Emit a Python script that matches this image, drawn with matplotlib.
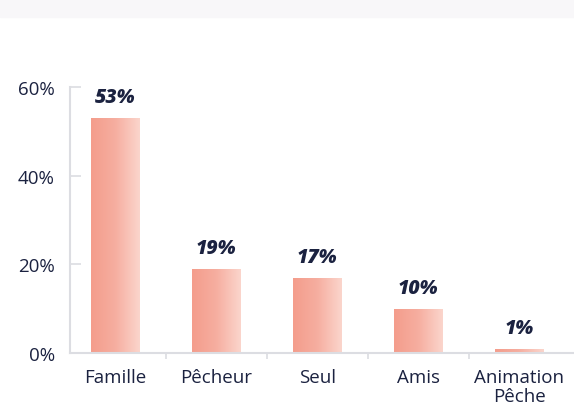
import numpy as np
import matplotlib.pyplot as plt
from matplotlib.colors import LinearSegmentedColormap
from matplotlib.ticker import FuncFormatter

categories = ["Famille", "Pêcheur", "Seul", "Amis", "Animation\nPêche"]
values = [53, 19, 17, 10, 1]
yticks = [0, 20, 40, 60]

navy = "#1b2240"
grid_grey = "#dcdde2"
fade = LinearSegmentedColormap.from_list("fade", ["#f49d8c", "#f6aea0", "#fbd5cc"])

plt.rcParams["font.family"] = ["Open Sans", "DejaVu Sans"]

fig = plt.figure(figsize=(5.74, 4.14), dpi=100)
# faint band along the top edge
fig.patches.append(plt.Rectangle((0, 0.957), 1, 0.043, transform=fig.transFigure,
                                 color="#f8f7f9", zorder=0))
ax = fig.add_axes([0.122, 0.145, 0.878, 0.642])

x = np.arange(len(categories))
bars = ax.bar(x, values, width=0.48, color="none", edgecolor="none")

# horizontal colour fade inside each bar
grad = np.linspace(0, 1, 64).reshape(1, -1)
for b in bars:
    x0, y0 = b.get_x(), b.get_y()
    im = ax.imshow(grad, cmap=fade, aspect="auto", interpolation="bicubic",
                   extent=(x0, x0 + b.get_width(), y0, y0 + b.get_height()), zorder=2)
    im.set_clip_path(b)

for xi, v in zip(x, values):
    ax.annotate(f"{v}%", (xi, v), xytext=(0, 15), textcoords="offset points",
                ha="center", va="center", fontsize=14, fontweight="heavy",
                fontstyle="italic", color=navy)

ax.set_xlim(-0.445, 4.54)
ax.set_ylim(0, 60)
ax.set_yticks(yticks)
ax.yaxis.set_major_formatter(FuncFormatter(lambda v, _: f"{v:.0f}%"))
ax.tick_params(axis="y", direction="in", length=8, color=grid_grey, width=1.2,
               labelsize=13.5, labelcolor=navy, pad=11)

ax.set_xticks(x)
ax.set_xticklabels(categories, linespacing=1.05)
ax.set_xticks(x[:-1] + 0.5, minor=True)
ax.tick_params(axis="x", which="major", length=0, labelsize=13.5, labelcolor=navy, pad=11)
ax.tick_params(axis="x", which="minor", direction="out", length=4, color=grid_grey, width=1.2)

for s in ("top", "right"):
    ax.spines[s].set_visible(False)
for s in ("left", "bottom"):
    ax.spines[s].set_color(grid_grey)
    ax.spines[s].set_linewidth(1.5)

fig.savefig("out.png", dpi=100)
